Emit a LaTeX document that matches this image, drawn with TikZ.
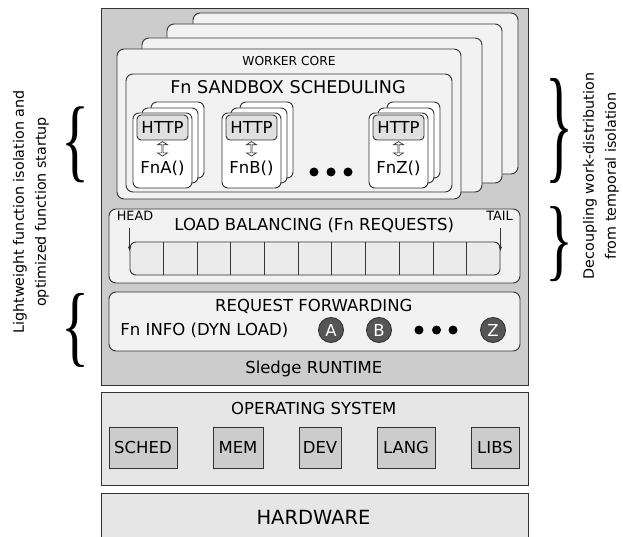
\documentclass[tikz,border=0pt]{standalone}
\usepackage{fontspec}
\setmainfont{DejaVu Sans}
\newfontfamily\bracefont{Liberation Serif}
\usetikzlibrary{positioning,calc,shapes.arrows,arrows.meta}
\definecolor{rtgray}{HTML}{CCCCCC}
\definecolor{boxgray}{HTML}{F2F2F2}
\definecolor{osgray}{HTML}{E6E6E6}
\definecolor{httpgray}{HTML}{E0E0E0}
\definecolor{cellgray}{HTML}{EBEBEB}
\definecolor{slotgray}{HTML}{555555}
\definecolor{linegray}{HTML}{333333}
\newcommand{\fsz}[1]{\fontsize{#1}{#1}\selectfont}

\begin{document}
\begin{tikzpicture}[x=1pt,y=-1pt,line width=0.9pt,font=\fsz{16.5}]
            \tikzstyle{plain box}=[draw=linegray,inner sep=0]
            \tikzstyle{layer}=[plain box,fill=boxgray,rounded corners=7pt]
            \tikzstyle{fn box}=[plain box,fill=white,rounded corners=6pt]
            \tikzstyle{http box}=[plain box,fill=httpgray,rounded corners=4pt,minimum width=51pt,minimum height=25pt]
            \tikzstyle{os part}=[plain box,fill=rtgray,minimum height=41pt]
            \tikzstyle{fn dot}=[circle,fill=black,inner sep=0,minimum size=9pt]
            \tikzstyle{fn slot}=[circle,draw=linegray,fill=slotgray,text=white,inner sep=0,minimum size=25pt]
            \tikzstyle{io arrow}=[double arrow,draw=linegray,fill=white,line width=0.7pt,rotate=90,minimum height=14.5pt,minimum width=10pt,double arrow head extend=2.5pt,double arrow tip angle=115,inner sep=0]
            \tikzstyle{brace}=[inner sep=0,font=\bracefont]
            \tikzstyle{side text}=[rotate=90,align=center,inner sep=0,font={\fontsize{14.3}{22}\selectfont}]
            \tikzstyle{queue arrow}=[draw=linegray,line width=0.7pt,-{Latex[length=5pt,width=3.5pt]}]
            \useasboundingbox (0,0) rectangle (623,537);
            \node[plain box,fill=rtgray,minimum width=427pt,minimum height=377pt] (runtime) at (314.5,196.5) {};
            \node[anchor=base] (runtimelabel) at (313.8,373.7) {Sledge RUNTIME};
            \foreach \a/\b/\c/\d in {193/13/518/174,167/24/502/183,142/38/482/192}
              \draw[layer] (\a,\b) rectangle (\c,\d);
            \node[layer,minimum width=344pt,minimum height=150pt] (core) at (289,124) {};
            \node[anchor=base,font=\fsz{12.3}] (corelabel) at (289,65.5) {WORKER CORE};
            \node[layer,minimum width=326pt,minimum height=118pt] (sandbox) at (289,133) {};
            \node[anchor=base,font=\fsz{17.6}] (sandboxlabel) at (288,93.5) {Fn SANDBOX SCHEDULING};
            \foreach \f/\x in {A/133,B/222,Z/369}{
              \draw[fn box] (\x+18,102) rectangle (\x+71,178);
              \draw[fn box] (\x+9,108) rectangle (\x+65,183);
              \node[fn box,minimum width=59pt,minimum height=75pt] (fn\f) at (\x+29.5,150.5) {};
              \node[http box] (http\f) at (\x+29.5,127.5) {HTTP};
              \node[anchor=base] (call\f) at (\x+29.5,173.5) {Fn\f()};
              \node[io arrow] (io\f) at ($(http\f.south)!0.5!(call\f.north)$) {};
            }
            \foreach \x [count=\i] in {314,331,348}
              \node[fn dot] (coredot\i) at (\x,172) {};
            \node[layer,minimum width=411pt,minimum height=74pt] (lb) at (314.5,246) {};
            \node[anchor=base] (lblabel) at (314.2,230.7) {LOAD BALANCING (Fn REQUESTS)};
            \node[plain box,fill=cellgray,rounded corners=6pt,minimum width=370pt,minimum height=33pt] (queue) at (315,258.5) {};
            \foreach \i in {1,...,10}
              \draw[draw=linegray] ($(queue.north west)!\i/11!(queue.north east)$) -- ($(queue.south west)!\i/11!(queue.south east)$);
            \node[anchor=base,font=\fsz{12.8}] (head) at (135,221) {HEAD};
            \node[anchor=base,font=\fsz{12.8}] (tail) at (499.5,221) {TAIL};
            \coordinate (headend) at ($(queue.north west)+(0,10)$);
            \coordinate (tailend) at ($(queue.north east)+(0,10)$);
            \draw[queue arrow] (head.south -| headend) ++(0,3) -- (headend);
            \draw[queue arrow] (tail.south -| tailend) ++(0,3) -- (tailend);
            \node[layer,minimum width=411pt,minimum height=59pt] (rf) at (314.5,321.5) {};
            \node[anchor=base] (rflabel) at (313.8,311.5) {REQUEST FORWARDING};
            \node[anchor=base west] (fninfo) at (116.7,335.7) {Fn INFO (DYN LOAD)};
            \foreach \s/\x in {A/331,B/379,Z/493}
              \node[fn slot] (slot\s) at (\x,330) {\s};
            \foreach \x [count=\i] in {419,436.5,453}
              \node[fn dot] (rfdot\i) at (\x,330) {};
            \node[plain box,fill=osgray,minimum width=427pt,minimum height=93pt] (os) at (314.5,438.5) {};
            \node[anchor=base] (oslabel) at (313.8,414.3) {OPERATING SYSTEM};
            \foreach \p/\x/\w in {SCHED/143/68,MEM/238/50,DEV/320/42,LANG/406/58,LIBS/495/48}
              \node[os part,minimum width=\w pt] (\p) at (\x,447.5) {\p};
            \node[plain box,fill=osgray,minimum width=427pt,minimum height=52pt] (hw) at (314.5,519) {};
            \node[anchor=base,font=\fsz{19.5}] (hwlabel) at (313.5,524) {HARDWARE};
            \node[brace] (isobrace) at (75.5,145) {\resizebox*{28pt}{76pt}{\{}};
            \node[brace] (startbrace) at (75.5,330) {\resizebox*{28pt}{74pt}{\{}};
            \node[brace] (workbrace) at (559.5,130.5) {\resizebox*{28pt}{105pt}{\}}};
            \node[brace] (tempbrace) at (559.5,244.5) {\resizebox*{28pt}{75pt}{\}}};
            \node[side text] (isolation) at (31,212) {Lightweight function isolation and\\optimized function startup};
            \node[side text] (decoupling) at (601,176) {Decoupling work-distribution\\from temporal isolation};
          \end{tikzpicture}
\end{document}
